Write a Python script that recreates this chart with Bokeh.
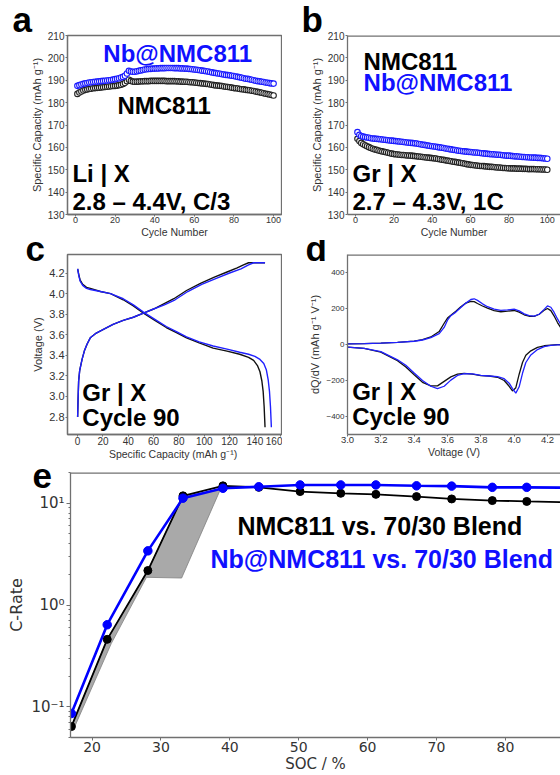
from bokeh.plotting import figure
from bokeh.layouts import column, row
from bokeh.models import Label, Title, Span, FixedTicker, Range1d, PrintfTickFormatter
from bokeh.embed import file_html
from bokeh.resources import INLINE

# ---------------- data ----------------
cycles = list(range(1, 101))
a_nmc = [183.9, 184.5, 185.0, 185.4, 185.7, 185.9, 186.1, 186.2, 186.4, 186.5,
         186.6, 186.7, 186.8, 186.9, 187.0, 187.1, 187.2, 187.3, 187.4, 187.5,
         187.6, 187.8, 188.0, 188.3, 188.8, 189.6, 190.2, 189.7, 189.4, 189.3,
         189.4, 189.4, 189.5, 189.5, 189.6, 189.6, 189.6, 189.7, 189.7, 189.7,
         189.7, 189.7, 189.7, 189.7, 189.7, 189.6, 189.6, 189.6, 189.6, 189.6,
         189.5, 189.5, 189.4, 189.4, 189.3, 189.3, 189.2, 189.1, 189.1, 189.0,
         188.9, 188.8, 188.7, 188.6, 188.5, 188.4, 188.3, 188.1, 188.0, 187.8,
         187.7, 187.6, 187.5, 187.4, 187.2, 187.1, 187.0, 186.9, 186.7, 186.5,
         186.4, 186.3, 186.1, 186.0, 185.9, 185.7, 185.6, 185.5, 185.3, 185.2,
         185.0, 184.8, 184.6, 184.4, 184.2, 184.0, 183.8, 183.6, 183.4, 183.2]
a_nb = [187.5, 187.8, 188.1, 188.4, 188.6, 188.8, 189.0, 189.1, 189.2, 189.3,
        189.4, 189.5, 189.6, 189.7, 189.8, 189.9, 190.0, 190.1, 190.3, 190.5,
        190.7, 190.9, 191.2, 191.5, 192.0, 193.0, 194.2, 193.9, 193.8, 193.8,
        194.0, 194.2, 194.4, 194.6, 194.8, 194.9, 195.0, 195.1, 195.2, 195.2,
        195.3, 195.3, 195.4, 195.4, 195.4, 195.5, 195.5, 195.5, 195.5, 195.4,
        195.4, 195.4, 195.3, 195.3, 195.2, 195.2, 195.1, 195.0, 194.9, 194.8,
        194.7, 194.6, 194.5, 194.3, 194.2, 194.0, 193.9, 193.7, 193.5, 193.3,
        193.2, 193.0, 192.9, 192.7, 192.6, 192.4, 192.3, 192.2, 192.0, 191.9,
        191.7, 191.5, 191.3, 191.1, 190.9, 190.7, 190.6, 190.4, 190.2, 190.0,
        189.8, 189.6, 189.5, 189.3, 189.2, 189.0, 188.9, 188.7, 188.6, 188.5]
b_nmc = [163.8, 162.8, 162.0, 161.4, 160.9, 160.5, 160.1, 159.7, 159.4, 159.1,
         158.9, 158.6, 158.4, 158.2, 158.0, 157.8, 157.6, 157.4, 157.2, 157.0,
         156.9, 156.8, 156.7, 156.6, 156.6, 156.5, 156.4, 156.4, 156.3, 156.2,
         156.1, 156.0, 155.9, 155.8, 155.7, 155.6, 155.5, 155.4, 155.3, 155.2,
         155.1, 155.0, 154.8, 154.7, 154.5, 154.4, 154.2, 154.1, 153.9, 153.8,
         153.6, 153.5, 153.3, 153.2, 153.0, 152.9, 152.7, 152.5, 152.4, 152.2,
         152.1, 152.0, 151.9, 151.8, 151.7, 151.7, 151.6, 151.5, 151.4, 151.3,
         151.3, 151.2, 151.1, 151.0, 151.0, 150.9, 150.8, 150.8, 150.7, 150.7,
         150.6, 150.6, 150.6, 150.5, 150.5, 150.5, 150.4, 150.4, 150.4, 150.3,
         150.3, 150.3, 150.3, 150.2, 150.2, 150.2, 150.1, 150.1, 150.1, 150.0]
b_nb = [166.8, 165.6, 165.1, 164.8, 164.6, 164.4, 164.3, 164.1, 164.0, 163.9,
        163.8, 163.7, 163.6, 163.5, 163.4, 163.3, 163.2, 163.1, 163.0, 162.9,
        162.8, 162.7, 162.6, 162.5, 162.4, 162.3, 162.2, 162.1, 162.0, 161.9,
        161.8, 161.7, 161.5, 161.4, 161.2, 161.1, 160.9, 160.8, 160.6, 160.5,
        160.4, 160.3, 160.1, 160.0, 159.8, 159.7, 159.5, 159.4, 159.2, 159.1,
        158.9, 158.8, 158.6, 158.5, 158.4, 158.3, 158.2, 158.1, 158.0, 157.9,
        157.8, 157.7, 157.7, 157.6, 157.5, 157.4, 157.3, 157.2, 157.1, 157.0,
        156.9, 156.9, 156.8, 156.7, 156.7, 156.6, 156.5, 156.4, 156.3, 156.3,
        156.2, 156.1, 156.0, 156.0, 155.9, 155.8, 155.7, 155.7, 155.6, 155.6,
        155.5, 155.5, 155.4, 155.4, 155.3, 155.3, 155.2, 155.1, 155.0, 154.9]

c_q_nmc_dis = [0, 1, 2, 4, 7, 10, 18, 26, 36, 44, 52, 61, 70, 78, 86, 96, 107, 118, 128, 135, 139, 142, 144, 145.5, 146.5, 147.3, 148]
c_v_nmc_dis = [4.24, 4.18, 4.13, 4.09, 4.06, 4.05, 4.02, 4.00, 3.94, 3.88, 3.81, 3.74, 3.67, 3.62, 3.57, 3.52, 3.47, 3.44, 3.41, 3.38, 3.35, 3.30, 3.24, 3.15, 3.05, 2.90, 2.70]
c_q_nb_dis = [0, 1, 2, 4, 7, 10, 18, 26, 36, 44, 52, 61, 70, 78, 86, 96, 107, 118, 128, 135, 140, 144, 147, 149, 150.5, 151.5, 152.3, 153]
c_v_nb_dis = [4.24, 4.17, 4.12, 4.08, 4.05, 4.04, 4.02, 4.00, 3.95, 3.89, 3.82, 3.75, 3.68, 3.63, 3.58, 3.53, 3.49, 3.46, 3.43, 3.41, 3.39, 3.36, 3.32, 3.26, 3.16, 3.05, 2.90, 2.70]
c_q_nmc_chg = [0, 0.3, 0.8, 1.6, 3.5, 5.5, 7.5, 10, 14, 20, 28, 36, 44, 52, 60, 68, 76, 86, 97, 108, 118, 126, 131, 135, 148]
c_v_nmc_chg = [2.80, 2.95, 3.15, 3.25, 3.36, 3.45, 3.51, 3.57, 3.61, 3.65, 3.70, 3.74, 3.77, 3.81, 3.85, 3.90, 3.95, 4.03, 4.10, 4.16, 4.21, 4.25, 4.28, 4.30, 4.30]
c_q_nb_chg = [0, 0.3, 0.8, 1.6, 3.5, 5.5, 7.5, 10, 14, 20, 28, 36, 44, 52, 60, 68.5, 77, 87, 98, 110, 120, 129, 135, 139, 148]
c_v_nb_chg = [2.80, 2.95, 3.15, 3.25, 3.36, 3.45, 3.51, 3.57, 3.61, 3.65, 3.70, 3.74, 3.77, 3.81, 3.85, 3.89, 3.94, 4.02, 4.09, 4.15, 4.20, 4.24, 4.28, 4.30, 4.30]

d_v_up = [3.0, 3.1, 3.2, 3.3, 3.4, 3.45, 3.5, 3.55, 3.58, 3.6, 3.62, 3.65, 3.68, 3.71, 3.74, 3.76, 3.78, 3.81,
          3.84, 3.88, 3.92, 3.96, 4.0, 4.03, 4.06, 4.09, 4.12, 4.15, 4.18, 4.2, 4.22, 4.24, 4.26, 4.28, 4.3]
d_up_nb = [3, 5, 8, 12, 18, 25, 38, 60, 95, 135, 160, 180, 205, 230, 250, 254, 245, 226,
           210, 197, 190, 192, 196, 187, 170, 160, 158, 168, 195, 214, 207, 178, 142, 110, 85]
d_up_nmc = [3, 5, 8, 12, 19, 27, 42, 72, 118, 147, 163, 185, 210, 230, 240, 238, 228, 214,
            202, 188, 182, 185, 189, 180, 165, 157, 156, 168, 190, 200, 188, 158, 122, 92, 68]
d_v_lo = [3.0, 3.1, 3.2, 3.3, 3.35, 3.4, 3.45, 3.5, 3.54, 3.58, 3.62, 3.66, 3.7, 3.75, 3.8,
          3.85, 3.9, 3.94, 3.97, 3.99, 4.01, 4.03, 4.05, 4.07, 4.1, 4.14, 4.18, 4.22, 4.26, 4.3]
d_lo_nb = [-15, -22, -40, -85, -115, -158, -200, -232, -245, -232, -198, -172, -162, -163, -172,
           -175, -178, -190, -215, -245, -270, -235, -160, -100, -58, -28, -12, -5, -2, -1]
d_lo_nmc = [-15, -22, -42, -90, -125, -168, -210, -230, -230, -205, -180, -165, -160, -165, -173,
            -175, -182, -200, -232, -258, -240, -165, -100, -60, -35, -16, -7, -3, -1, 0]

e_soc = [17, 22.2, 28.1, 33.2, 39, 44.2, 50.2, 56.1, 61.2, 67.1, 72.2, 78.1, 83.1, 89]
e_nmc = [0.064, 0.46, 2.18, 11.8, 14.8, 14.3, 13.0, 12.5, 12.2, 11.6, 11.0, 10.6, 10.4, 10.2]
e_nb = [0.086, 0.64, 3.4, 11.2, 14.0, 14.5, 15.1, 15.1, 15.1, 14.8, 14.7, 14.3, 14.3, 14.2]
e_band_x = [17, 22.2, 28.1, 33.2, 38.6, 33.0, 27.9, 22.8, 17.3]
e_band_y = [0.064, 0.46, 2.18, 11.8, 13.5, 1.84, 1.87, 0.42, 0.06]

# ---------------- styles ----------------
GRAY = "#707070"
TXT = "#333333"
BLUE = "#1010ff"
FONT = "Liberation Sans"


def style_axis(ax, tick_size="10px", label_size="11px", font=FONT, tick_out=2, standoff=1, lab_standoff=2):
    ax.axis_line_color = GRAY
    ax.axis_line_width = 1.3
    ax.major_tick_line_color = GRAY
    ax.major_tick_in = 0
    ax.major_tick_out = tick_out
    ax.minor_tick_line_color = None
    ax.major_label_text_font = font
    ax.major_label_text_font_size = tick_size
    ax.major_label_text_color = TXT
    ax.major_label_standoff = standoff
    ax.axis_label_text_font = font
    ax.axis_label_text_font_size = label_size
    ax.axis_label_text_font_style = "normal"
    ax.axis_label_text_color = TXT
    ax.axis_label_standoff = lab_standoff


def top_line(p, yval):
    # half of the stroke is clipped by the frame, leaving a border-like line
    p.add_layout(Span(location=yval, dimension="width", line_color=GRAY, line_width=2.6))


def mk(width, height, xr, yr, left, right, top, bottom, open_right=False, **kw):
    p = figure(width=width, height=height, x_range=Range1d(*xr), y_range=Range1d(*yr),
               output_backend="svg", toolbar_location=None, title=None,
               min_border_left=left, min_border_right=right, min_border_top=top,
               min_border_bottom=bottom, background_fill_color="white",
               border_fill_color="white", **kw)
    p.xgrid.visible = False
    p.ygrid.visible = False
    if open_right:
        p.outline_line_color = None
    else:
        p.outline_line_color = GRAY
        p.outline_line_width = 1.3
    return p


def txt(p, x, y, s, size="24px", color="black", baseline="middle"):
    p.add_layout(Label(x=x, y=y, text=s, text_font=FONT, text_font_size=size,
                       text_font_style="bold", text_color=color, text_baseline=baseline))


def letter(p, s, offset, standoff):
    p.add_layout(Title(text=s, align="left", offset=offset, standoff=standoff,
                       vertical_align="bottom", text_font=FONT, text_font_size="35px",
                       text_font_style="bold", text_color="black"), "above")


# ---------------- panel a ----------------
pa = mk(282, 240, (-4, 104), (130, 210), 67, 1, 33, 23)
pa.scatter(cycles, a_nmc, marker="circle", size=5.5, line_color="#222222", fill_color="white", line_width=1.1)
pa.scatter(cycles, a_nb, marker="circle", size=5.5, line_color="#1a1aff", fill_color="white", line_width=1.1)
xa, ya = pa.below[0], pa.left[0]
xa.ticker = FixedTicker(ticks=[0, 20, 40, 60, 80, 100])
ya.ticker = FixedTicker(ticks=[130, 140, 150, 160, 170, 180, 190, 200, 210])
xa.axis_label = "Cycle Number"
ya.axis_label = "Specific Capacity (mAh g⁻¹)"
style_axis(xa, tick_size="9px", label_size="10.5px", standoff=0, lab_standoff=0)
style_axis(ya)
txt(pa, 14.1, 201.9, "Nb@NMC811", color=BLUE)
txt(pa, 21.2, 178.8, "NMC811")
txt(pa, -1.5, 148.4, "Li | X")
txt(pa, -1.5, 135.8, "2.8 – 4.4V, C/3")
letter(pa, "a", -55, -6)

# ---------------- panel b ----------------
pb = mk(278, 240, (-4.2, 106.9), (130, 210), 65, 0, 33, 23, open_right=True)
pb.scatter(cycles, b_nmc, marker="circle", size=5.5, line_color="#222222", fill_color="white", line_width=1.1)
pb.scatter(cycles, b_nb, marker="circle", size=5.5, line_color="#1a1aff", fill_color="white", line_width=1.1)
xb, yb = pb.below[0], pb.left[0]
xb.ticker = FixedTicker(ticks=[0, 20, 40, 60, 80, 100])
yb.ticker = FixedTicker(ticks=[130, 140, 150, 160, 170, 180, 190, 200, 210])
xb.axis_label = "Cycle Number"
yb.axis_label = "Specific Capacity (mAh g⁻¹)"
style_axis(xb, tick_size="9px", label_size="10.5px", standoff=0, lab_standoff=0)
style_axis(yb)
top_line(pb, 210)
txt(pb, 4.2, 198.4, "NMC811")
txt(pb, 4.2, 188.8, "Nb@NMC811", color=BLUE)
txt(pb, -1.6, 148.4, "Gr | X")
txt(pb, -1.6, 135.8, "2.7 – 4.3V, 1C")
letter(pb, "b", -46, -6)

# ---------------- panel c ----------------
pc = mk(282, 222, (-8, 161), (2.63, 4.38), 67, 1, 12, 27)
pc.line(c_q_nmc_dis, c_v_nmc_dis, line_color="#111111", line_width=1.4)
pc.line(c_q_nmc_chg, c_v_nmc_chg, line_color="#111111", line_width=1.4)
pc.line(c_q_nb_dis, c_v_nb_dis, line_color="#2020ff", line_width=1.4)
pc.line(c_q_nb_chg, c_v_nb_chg, line_color="#2020ff", line_width=1.4)
xc, yc = pc.below[0], pc.left[0]
xc.ticker = FixedTicker(ticks=[0, 20, 40, 60, 80, 100, 120, 140, 160])
yc.ticker = FixedTicker(ticks=[2.8, 3.0, 3.2, 3.4, 3.6, 3.8, 4.0, 4.2])
yc.formatter = PrintfTickFormatter(format="%.1f")
xc.axis_label = "Specific Capacity  (mAh g⁻¹)"
yc.axis_label = "Voltage (V)"
style_axis(xc, tick_size="10px", label_size="10.5px", standoff=0, lab_standoff=0)
style_axis(yc, tick_size="11px")
txt(pc, 3.7, 3.04, "Gr | X")
txt(pc, 3.7, 2.797, "Cycle 90")
letter(pc, "c", -42, -27)

# ---------------- panel d ----------------
pd_ = mk(278, 222, (3.0, 4.278), (-500, 500), 65, 0, 12, 27, open_right=True)
pd_.line(d_v_up, d_up_nmc, line_color="#111111", line_width=1.3)
pd_.line(d_v_lo, d_lo_nmc, line_color="#111111", line_width=1.3)
pd_.line(d_v_up, d_up_nb, line_color="#2020ff", line_width=1.3)
pd_.line(d_v_lo, d_lo_nb, line_color="#2020ff", line_width=1.3)
xd, yd = pd_.below[0], pd_.left[0]
xd.ticker = FixedTicker(ticks=[3.0, 3.2, 3.4, 3.6, 3.8, 4.0, 4.2])
xd.formatter = PrintfTickFormatter(format="%.1f")
yd.ticker = FixedTicker(ticks=[-400, -200, 0, 200, 400])
xd.axis_label = "Voltage (V)"
yd.axis_label = "dQ/dV (mAh g⁻¹ V⁻¹)"
style_axis(xd, tick_size="9.5px", label_size="10.5px", standoff=0, lab_standoff=0)
style_axis(yd, tick_size="8px")
top_line(pd_, 500)
txt(pd_, 3.028, -261, "Gr | X")
txt(pd_, 3.028, -400, "Cycle 90")
letter(pd_, "d", -42, -27)

# ---------------- panel e ----------------
pe = mk(560, 313, (16.87, 88.0), (0.05, 20), 70, 0, 10, 38, open_right=True, y_axis_type="log")
pe.patch(e_band_x, e_band_y, fill_color="#9a9a9a", fill_alpha=0.85, line_color="#808080", line_width=0.8)
pe.line(e_soc, e_nmc, line_color="black", line_width=1.8)
pe.scatter(e_soc, e_nmc, marker="circle", size=8, color="black")
pe.line(e_soc, e_nb, line_color="#0000ff", line_width=2.6)
pe.scatter(e_soc, e_nb, marker="circle", size=8.5, color="#0000ff")
xe, ye = pe.below[0], pe.left[0]
xe.ticker = FixedTicker(ticks=[20, 30, 40, 50, 60, 70, 80])
ye.ticker = FixedTicker(ticks=[0.1, 1, 10],
                        minor_ticks=[0.05, 0.06, 0.07, 0.08, 0.09, 0.2, 0.3, 0.4, 0.5, 0.6, 0.7,
                                     0.8, 0.9, 2, 3, 4, 5, 6, 7, 8, 9, 20])
ye.major_label_overrides = {0.1: "10⁻¹", 1: "10⁰", 10: "10¹"}
xe.axis_label = "SOC / %"
ye.axis_label = "C-Rate"
style_axis(xe, tick_size="14px", label_size="15px", font="DejaVu Sans", tick_out=3, standoff=1, lab_standoff=0)
style_axis(ye, tick_size="15px", label_size="16px", font="DejaVu Sans", tick_out=4, standoff=2, lab_standoff=2)
ye.minor_tick_line_color = GRAY
ye.minor_tick_out = 2
ye.minor_tick_in = 0
top_line(pe, 20)
txt(pe, 41.1, 5.9, "NMC811 vs. 70/30 Blend", size="25px")
txt(pe, 37.2, 2.83, "Nb@NMC811 vs. 70/30 Blend", size="25px", color=BLUE)
letter(pe, "e", -38, -30)

layout = column(row(pa, pb), row(pc, pd_), pe)
open("out.html", "w").write(file_html(layout, INLINE))
